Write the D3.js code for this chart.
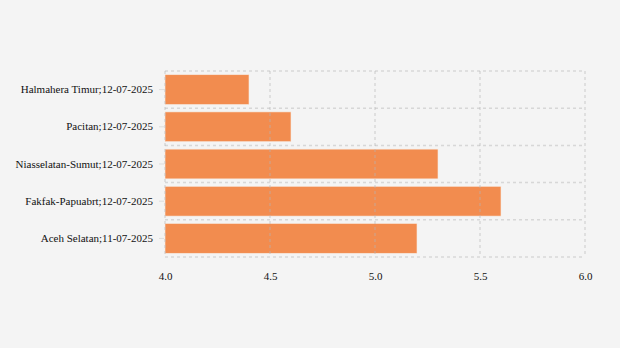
<!DOCTYPE html>
<html>
<head>
<meta charset="utf-8">
<script src="https://cdn.jsdelivr.net/npm/d3@7"></script>
<style>
  html, body { margin: 0; padding: 0; background: #f4f4f4; }
  svg { display: block; }
  svg text { font-family: 'Liberation Serif', 'Times New Roman', Times, serif !important; fill: #111; font-size: 11px; }
</style>
</head>
<body>
<svg id="chart" width="620" height="348"></svg>
<script>
// Regions and their values
const categories = [
  "Halmahera Timur;12-07-2025",
  "Pacitan;12-07-2025",
  "Niasselatan-Sumut;12-07-2025",
  "Fakfak-Papuabrt;12-07-2025",
  "Aceh Selatan;11-07-2025"
];
const values = [4.4, 4.6, 5.3, 5.6, 5.2];
const xTicks = [4.0, 4.5, 5.0, 5.5, 6.0];

const svg = d3.select("#chart");
const margin = { left: 165, right: 35, top: 71, bottom: 91 };
const W = 620, H = 348;
const innerW = W - margin.left - margin.right;
const innerH = H - margin.top - margin.bottom;

const x = d3.scaleLinear().domain([4, 6]).range([0, innerW]);
const y = d3.scaleBand().domain(categories).range([0, innerH]).paddingInner(0.2).paddingOuter(0.1);
const yGrid = d3.scaleBand().domain(categories).range([0, innerH]);

const g = svg.append("g").attr("transform", `translate(${margin.left},${margin.top})`);

// bars
g.selectAll("rect.bar").data(categories).join("rect")
  .attr("class", "bar")
  .attr("x", x(4))
  .attr("y", d => y(d))
  .attr("width", (d, i) => x(values[i]) - x(4))
  .attr("height", y.bandwidth())
  .attr("fill", "#f28c4f")
  .attr("stroke", "#f7e9df")
  .attr("stroke-width", 0.6);

// grid: vertical lines at x ticks
const gridStyle = sel => sel.attr("stroke", "rgba(180,180,180,0.45)")
  .attr("stroke-width", 1.5).attr("stroke-dasharray", "3,3");

g.selectAll("line.vgrid").data(xTicks).join("line")
  .attr("class", "vgrid")
  .attr("x1", d => x(d)).attr("x2", d => x(d))
  .attr("y1", 0).attr("y2", innerH)
  .call(gridStyle);

// grid: horizontal lines at band boundaries
const bounds = categories.map(c => yGrid(c)).concat([innerH]);
g.selectAll("line.hgrid").data(bounds).join("line")
  .attr("class", "hgrid")
  .attr("x1", 0).attr("x2", innerW)
  .attr("y1", d => d).attr("y2", d => d)
  .call(gridStyle);

// y axis
const yAxis = g.append("g").call(d3.axisLeft(y).tickSize(5).tickPadding(7));
yAxis.attr("font-family", null).attr("font-size", null);
yAxis.select(".domain").remove();
yAxis.selectAll(".tick line").attr("stroke", "#ddd").attr("transform", "translate(-1,0)");

// x axis
const xAxis = g.append("g").attr("transform", `translate(0,${innerH})`)
  .call(d3.axisBottom(x).tickValues(xTicks).tickFormat(d3.format(".1f")).tickSize(0).tickPadding(15));
xAxis.attr("font-family", null).attr("font-size", null);
xAxis.select(".domain").remove();
</script>
</body>
</html>
